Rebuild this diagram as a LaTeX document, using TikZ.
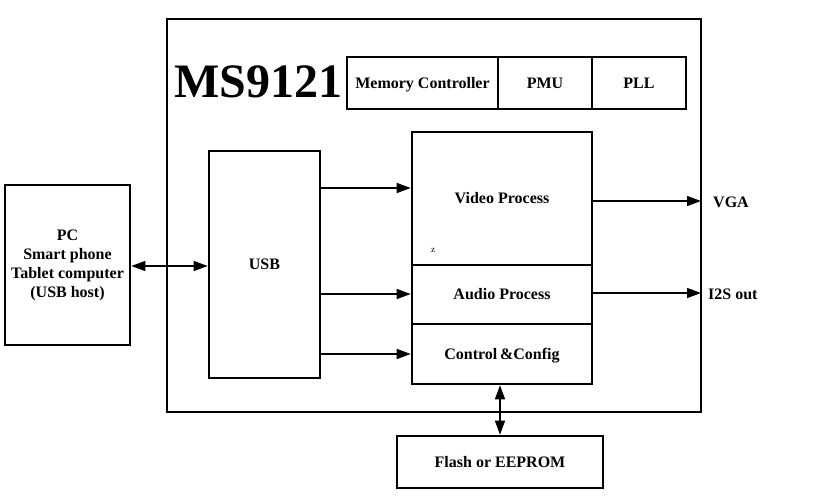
\documentclass[tikz,border=0pt]{standalone}
\usepackage{fontspec}
\setmainfont{Liberation Serif}
\usetikzlibrary{arrows.meta}
\begin{document}
\begin{tikzpicture}[x=1pt,y=-1pt,
  blk/.style={draw,line width=2.6pt,inner sep=0pt,font=\bfseries\fontsize{16}{19}\selectfont,align=center},
  one/.style={text height=12pt,text depth=1.5pt},
  arr/.style={line width=1.3pt,-{Triangle[length=14pt,width=10pt]}},
  darr/.style={line width=1.3pt,{Triangle[length=14pt,width=10pt]}-{Triangle[length=14pt,width=10pt]}},
  lbl/.style={font=\bfseries\fontsize{16}{17}\selectfont,inner sep=0pt}]
\useasboundingbox (0,0) rectangle (827,501);
% outer chip
\node[blk,line width=2.6pt,minimum width=534pt,minimum height=393pt] (chip) at (434,215.5) {};
\node[font=\bfseries\fontsize{48}{50}\selectfont,inner sep=0pt,anchor=west] (title) at (174,82) {MS9121};
% top row
\node[blk,one,minimum width=151pt,minimum height=52pt] (mem) at (422.5,83) {Memory Controller};
\node[blk,one,minimum width=94pt,minimum height=52pt] (pmu) at (545,83) {PMU};
\node[blk,one,minimum width=94pt,minimum height=52pt] (pll) at (639,83) {PLL};
% usb
\node[blk,one,minimum width=111pt,minimum height=227pt] (usb) at (264.5,264.5) {USB};
% processing
\node[blk,one,minimum width=180pt,minimum height=133pt] (video) at (502,198.5) {Video Process};
\node[blk,one,minimum width=180pt,minimum height=59pt] (audio) at (502,294.5) {Audio Process};
\node[blk,one,minimum width=180pt,minimum height=60pt] (ctrl) at (502,354) {Control\,\&Config};
\node[font=\fontsize{9}{9}\selectfont,inner sep=0pt] (z) at (433,250) {z};
% host
\node[blk,minimum width=125pt,minimum height=160pt] (pc) at (67.5,265) {PC\\Smart phone\\Tablet computer\\(USB host)};
% flash
\node[blk,one,minimum width=206pt,minimum height=52pt] (flash) at (500,462) {Flash or EEPROM};
% outputs
\coordinate (vgaend) at (701,201);
\coordinate (i2send) at (701,293);
\node[lbl,anchor=west] (vga) at (713,202) {VGA};
\node[lbl,anchor=west] (i2s) at (708,294) {I2S out};
% connectors
\draw[darr] (pc.east |- 0,266) -- (usb.west |- 0,266);
\draw[arr] (usb.east |- 0,188) -- (video.west |- 0,188);
\draw[arr] (usb.east |- 0,294) -- (audio.west |- 0,294);
\draw[arr] (usb.east |- 0,354) -- (ctrl.west |- 0,354);
\draw[arr] (video.east |- vgaend) -- (vgaend);
\draw[arr] (audio.east |- i2send) -- (i2send);
\draw[darr] (ctrl.south -| 500,0) -- (flash.north -| 500,0);
\end{tikzpicture}
\end{document}
